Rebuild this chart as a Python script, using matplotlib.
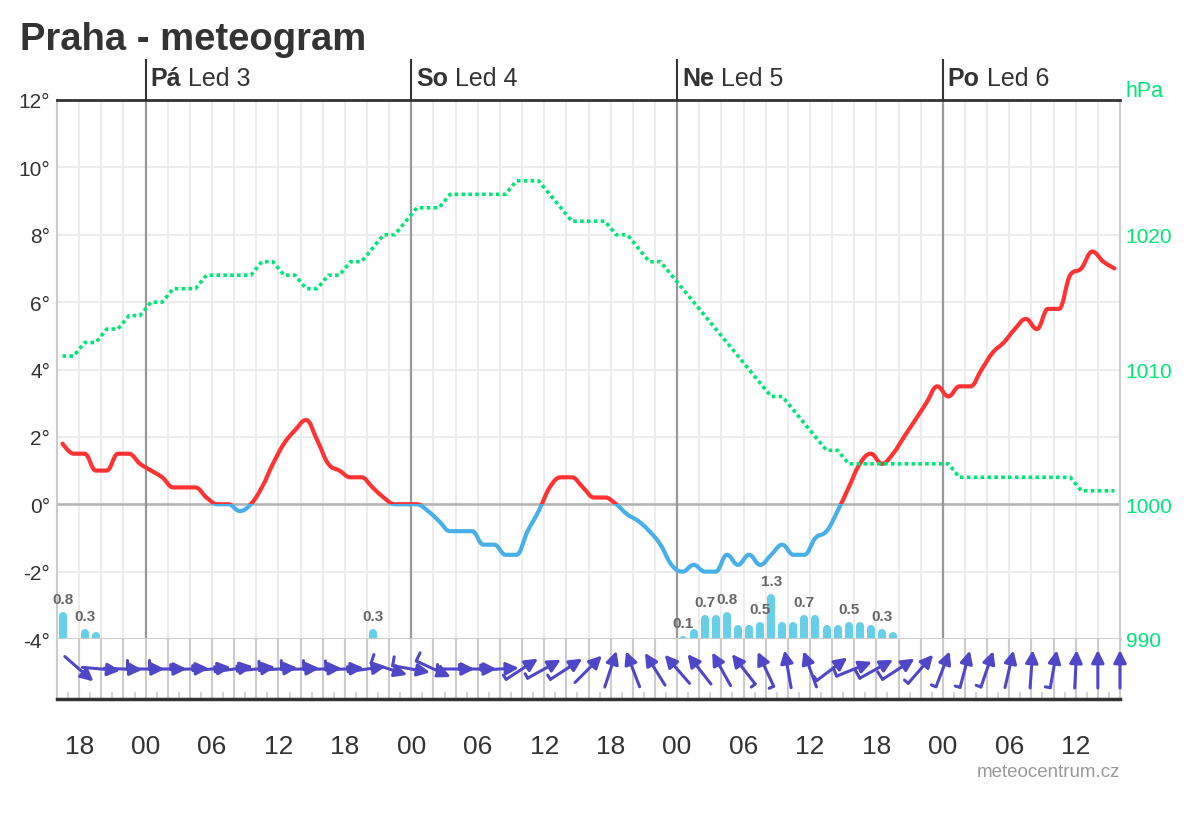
import matplotlib.pyplot as plt
import numpy as np
from matplotlib.path import Path
from matplotlib.patches import PathPatch, Rectangle, FancyArrowPatch
from matplotlib.offsetbox import TextArea, HPacker, AnnotationBbox

plt.rcParams['font.family'] = ['Liberation Sans', 'DejaVu Sans']

# time in hours from Fri Jan 3 00:00, hourly values sit on the half hour
hours = np.arange(-7.5, 88, 1.0)

temp = [1.8, 1.5, 1.5, 1.0, 1.0, 1.5, 1.5, 1.2,
        1.0, 0.8, 0.5, 0.5, 0.5, 0.2, 0.0, 0.0, -0.2, 0.0, 0.5, 1.2,
        1.8, 2.2, 2.5, 1.9, 1.2, 1.0, 0.8, 0.8, 0.5, 0.2, 0.0, 0.0,
        0.0, -0.2, -0.5, -0.8, -0.8, -0.8, -1.2, -1.2, -1.5, -1.5, -0.8, -0.2,
        0.5, 0.8, 0.8, 0.5, 0.2, 0.2, 0.0, -0.3, -0.5, -0.8, -1.2, -1.8,
        -2.0, -1.8, -2.0, -2.0, -1.5, -1.8, -1.5, -1.8, -1.5, -1.2, -1.5, -1.5,
        -1.0, -0.8, -0.2, 0.5, 1.2, 1.5, 1.2, 1.5, 2.0, 2.5, 3.0, 3.5,
        3.2, 3.5, 3.5, 4.0, 4.5, 4.8, 5.2, 5.5, 5.2, 5.8, 5.8, 6.8,
        7.0, 7.5, 7.2, 7.0]

pressure = [1011, 1011, 1012, 1012, 1013, 1013, 1014, 1014,
            1015, 1015, 1016, 1016, 1016, 1017, 1017, 1017, 1017, 1017, 1018, 1018,
            1017, 1017, 1016, 1016, 1017, 1017, 1018, 1018, 1019, 1020, 1020, 1021,
            1022, 1022, 1022, 1023, 1023, 1023, 1023, 1023, 1023, 1024, 1024, 1024,
            1023, 1022, 1021, 1021, 1021, 1021, 1020, 1020, 1019, 1018, 1018, 1017,
            1016, 1015, 1014, 1013, 1012, 1011, 1010, 1009, 1008, 1008, 1007, 1006,
            1005, 1004, 1004, 1003, 1003, 1003, 1003, 1003, 1003, 1003, 1003, 1003,
            1003, 1002, 1002, 1002, 1002, 1002, 1002, 1002, 1002, 1002, 1002, 1002,
            1001, 1001, 1001, 1001]

precip_hours = [-7.5, -5.5, -4.5, 20.5, 48.5, 49.5, 50.5, 51.5, 52.5, 53.5, 54.5, 55.5,
                56.5, 57.5, 58.5, 59.5, 60.5, 61.5, 62.5, 63.5, 64.5, 65.5, 66.5, 67.5]
precip_mm = [0.8, 0.3, 0.2, 0.3, 0.1, 0.3, 0.7, 0.7, 0.8, 0.4, 0.4, 0.5,
             1.3, 0.5, 0.5, 0.7, 0.7, 0.4, 0.4, 0.5, 0.5, 0.4, 0.3, 0.2]
precip_labelled = [-7.5, -5.5, 20.5, 48.5, 50.5, 52.5, 55.5, 56.5, 59.5, 63.5, 66.5]

# wind every 2 hours: direction the arrow points (deg, 0 = east, 90 = north) and speed (kt)
wind_hours = np.arange(-6, 89, 2)
wind_dir = [-41, -5, -2, 0, 0, 2, 5, 8, 6, 4, 2, 2, 3, 8,
            -18, -10, -25, 0, 0, 3, 33, 29, 33, 45,
            72, 111, 122, 131, 128, 119, 128, 115, 100, 110,
            37, 22, 29, 33, 49, 69, 75, 71, 77, 86,
            80, 87, 90, 90]
wind_kt = [0, 0, 0, 10, 10, 5, 5, 5, 5, 10, 10, 10, 10, 5,
           10, 10, 10, 5, 5, 5, 5, 5, 5, 0,
           0, 0, 0, 0, 0, 0, 5, 5, 0, 0,
           5, 10, 10, 10, 5, 5, 5, 5, 0, 0,
           5, 0, 0, 0]

day_starts = [0, 24, 48, 72]
day_names = ['Pá', 'So', 'Ne', 'Po']
day_dates = ['Led 3', 'Led 4', 'Led 5', 'Led 6']

RED = '#ff3333'
BLUE = '#48afe8'
GREEN = '#00e676'
RAIN = '#68cfe8'
WIND = '#5046c8'
TXT = '#333333'
PREC_SCALE = 1.02   # degrees of the temperature axis per mm


def spline_path(xs, ys, s=1.5):
    # highcharts-like spline through the points
    xs = np.asarray(xs, float)
    ys = np.asarray(ys, float)
    n = len(xs)
    lx, ly, rx, ry = xs.copy(), ys.copy(), xs.copy(), ys.copy()
    for i in range(1, n - 1):
        x, y, py, ny = xs[i], ys[i], ys[i - 1], ys[i + 1]
        lx[i] = (s * x + xs[i - 1]) / (s + 1)
        ly[i] = (s * y + py) / (s + 1)
        rx[i] = (s * x + xs[i + 1]) / (s + 1)
        ry[i] = (s * y + ny) / (s + 1)
        corr = (ry[i] - ly[i]) * (rx[i] - x) / (rx[i] - lx[i]) + y - ry[i]
        ly[i] += corr
        ry[i] += corr
        if ly[i] > py and ly[i] > y:
            ly[i] = max(py, y); ry[i] = 2 * y - ly[i]
        elif ly[i] < py and ly[i] < y:
            ly[i] = min(py, y); ry[i] = 2 * y - ly[i]
        if ry[i] > ny and ry[i] > y:
            ry[i] = max(ny, y); ly[i] = 2 * y - ry[i]
        elif ry[i] < ny and ry[i] < y:
            ry[i] = min(ny, y); ly[i] = 2 * y - ry[i]
    verts = [(xs[0], ys[0])]
    codes = [Path.MOVETO]
    for i in range(1, n):
        verts += [(rx[i - 1], ry[i - 1]), (lx[i], ly[i]), (xs[i], ys[i])]
        codes += [Path.CURVE4] * 3
    return Path(verts, codes)


fig = plt.figure(figsize=(12, 8.2), dpi=100)
L, W = 57 / 1200, (1120 - 57) / 1200
ax = fig.add_axes([L, 1 - 640 / 820, W, (640 - 101) / 820])
axw = fig.add_axes([L, 1 - 700 / 820, W, 60 / 820])

ax.set_xlim(-8, 88)
ax.set_ylim(-4, 12)
ax.set_xticks(np.arange(-8, 89, 2))
ax.set_yticks(np.arange(-4, 13, 2))
ax.set_yticklabels([f'{v}°' for v in range(-4, 13, 2)])
ax.tick_params(axis='x', length=0, labelbottom=False)
ax.tick_params(axis='y', length=0, pad=5, labelsize=15, labelcolor=TXT)
ax.grid(True, color='#ececec', lw=1.4)
ax.set_axisbelow(True)
ax.axhline(0, color='#b3b3b3', lw=1.8, zorder=1)
for d in day_starts:
    ax.axvline(d, color='#999999', lw=1.6, zorder=1)
for side in ['left', 'right']:
    ax.spines[side].set_color('#cccccc')
    ax.spines[side].set_linewidth(1.5)
ax.spines['bottom'].set_color('#cccccc')
ax.spines['bottom'].set_linewidth(2)
ax.spines['top'].set_color(TXT)
ax.spines['top'].set_linewidth(2)

# precipitation, rounded bars standing on the -4 line
cap = 4 / 33.7
tops = [-4 + v * PREC_SCALE - cap for v in precip_mm]
bars = ax.vlines(precip_hours, -4.5, tops, colors=RAIN, lw=5.8, zorder=2)
bars.set_capstyle('round')
for h, v in zip(precip_hours, precip_mm):
    if h in precip_labelled:
        ax.annotate(f'{v}', (h, -4 + v * PREC_SCALE), xytext=(0, 9), textcoords='offset pixels',
                    ha='center', va='baseline', fontsize=11, fontweight='bold', color='#666666')

# temperature, red above zero and blue below
tpath = spline_path(hours, temp)
warm = PathPatch(tpath, fill=False, ec=RED, lw=3, joinstyle='round', capstyle='round', zorder=4)
cold = PathPatch(tpath, fill=False, ec=BLUE, lw=3, joinstyle='round', capstyle='round', zorder=4)
ax.add_patch(warm)
ax.add_patch(cold)
warm.set_clip_path(Rectangle((-8, 0), 96, 12, transform=ax.transData))
cold.set_clip_path(Rectangle((-8, -4), 96, 4, transform=ax.transData))

# pressure on the right axis
ax2 = ax.twinx()
ax2.set_ylim(990, 1030)
ax2.set_yticks([990, 1000, 1010, 1020])
ax2.tick_params(axis='y', length=0, pad=4, labelsize=15, labelcolor=GREEN)
for sp in ax2.spines.values():
    sp.set_visible(False)
ax2.plot(hours, pressure, color=GREEN, lw=2.6, dashes=(1, 0.9), zorder=3)
ax.text(1.005, 1.0 + 9 / 539, 'hPa', transform=ax.transAxes, ha='left', va='center',
        fontsize=15.5, color=GREEN)

# day labels above the plot
for d, name, date in zip(day_starts, day_names, day_dates):
    ax.plot([d, d], [1.0, 1.0 + 40 / 539], transform=ax.get_xaxis_transform(),
            color=TXT, lw=1.5, clip_on=False)
    box = HPacker(children=[TextArea(name, textprops=dict(fontsize=18, fontweight='bold', color=TXT)),
                            TextArea(date, textprops=dict(fontsize=18, color=TXT))],
                  align='baseline', pad=0, sep=5)
    ab = AnnotationBbox(box, (d, 1.0), xycoords=ax.get_xaxis_transform(), xybox=(5, 22),
                        boxcoords='offset pixels', box_alignment=(0, 0.5), frameon=False,
                        annotation_clip=False)
    ax.add_artist(ab)

# wind strip, same scale in x and y (1 unit = 1 hour)
upx = 96 / 1063
axw.set_xlim(-8, 88)
axw.set_ylim(-30 * upx, 30 * upx)
for h in np.arange(-6, 88, 2):
    axw.axvline(h, color='#cccccc', lw=1.5, zorder=0)
axw.spines['top'].set_visible(False)
for side in ['left', 'right']:
    axw.spines[side].set_color('#cccccc')
    axw.spines[side].set_linewidth(1.5)
axw.spines['bottom'].set_color(TXT)
axw.spines['bottom'].set_linewidth(2.5)
axw.set_yticks([])
tick_hours = np.arange(-6, 88, 6)
axw.set_xticks(tick_hours)
axw.set_xticklabels([f'{int(h % 24):02d}' for h in tick_hours])
axw.set_xticks(np.arange(-7, 88, 1), minor=True)
axw.tick_params(axis='x', which='both', direction='in', length=5, color='#cccccc', width=1.2)
axw.tick_params(axis='x', which='major', pad=25, labelsize=19, labelcolor=TXT)

alen = 38 * upx
for h, a, kt in zip(wind_hours, wind_dir, wind_kt):
    dx, dy = np.cos(np.radians(a)), np.sin(np.radians(a))
    tail = (h - dx * alen / 2, -dy * alen / 2)
    head = (h + dx * alen / 2, dy * alen / 2)
    arr = FancyArrowPatch(tail, head, arrowstyle='-|>,head_length=0.5,head_width=0.25',
                          mutation_scale=15, lw=2.2, color=WIND, shrinkA=0, shrinkB=0,
                          clip_on=False, zorder=3)
    axw.add_patch(arr)
    if kt > 0:
        blen = (9 if kt >= 10 else 5) * upx
        bx, by = -dy, dx
        axw.plot([tail[0], tail[0] + bx * blen], [tail[1], tail[1] + by * blen],
                 color=WIND, lw=2.2, solid_capstyle='round', clip_on=False, zorder=3)

fig.text(20 / 1200, 1 - 50 / 820, 'Praha - meteogram', fontsize=27.5, fontweight='bold',
         color=TXT, ha='left', va='baseline')
fig.text(1120 / 1200, 1 - 773 / 820, 'meteocentrum.cz', fontsize=13.5, color='#999999',
         ha='right', va='center')

fig.savefig('out.png', dpi=100)
